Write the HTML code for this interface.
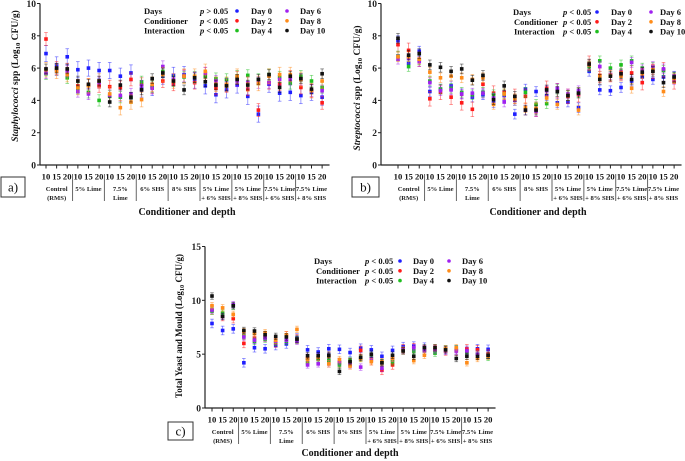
<!DOCTYPE html>
<html><head><meta charset="utf-8"><style>
html,body{margin:0;padding:0;background:#fff;}
svg{display:block;font-family:"Liberation Serif",serif;font-weight:bold;}
</style></head><body>
<svg id="chart" width="685" height="461" viewBox="0 0 685 461" xmlns="http://www.w3.org/2000/svg"></svg>
<script>
const groupLabels = [["Control","(RMS)"],["5% Lime"],["7.5%","Lime"],["6% SHS"],["8% SHS"],["5% Lime","+ 6% SHS"],["5% Lime","+ 8% SHS"],["7.5% Lime","+ 6% SHS"],["7.5% Lime","+ 8% SHS"]];
const depthLabels = ["10","15","20"];
const dayNames = ["Day 0","Day 2","Day 4","Day 6","Day 8","Day 10"];
const dayColors = ["#1f1fff","#ff1a1a","#1fbf1f","#a020f0","#ff8c1a","#111111"];

const aDay0 = [6.9,6.2,6.7,5.9,6.0,5.85,5.85,5.5,5.7,4.7,4.8,5.5,5.55,5.6,5.25,4.9,4.35,4.65,4.95,4.25,3.15,5.0,4.45,4.5,4.3,4.5,4.2];
const aDay2 = [7.8,6.0,5.9,4.9,4.95,4.9,4.85,4.8,5.3,5.0,4.85,5.2,5.0,5.5,5.1,5.65,4.75,4.9,5.4,4.7,3.4,5.1,5.0,5.45,4.8,4.6,3.85];
const aDay4 = [5.65,5.9,5.4,4.75,4.5,4.0,4.25,4.2,4.15,5.15,4.85,5.8,5.2,5.45,5.45,5.45,5.35,5.3,5.5,5.55,5.3,5.6,5.45,5.05,5.5,5.2,4.8];
const aDay6 = [5.7,5.9,5.8,4.55,4.4,5.1,4.3,4.3,4.4,4.9,4.75,6.1,5.3,5.5,5.4,5.7,5.2,5.0,5.2,5.1,5.1,5.1,5.3,5.3,5.3,4.6,4.6];
const aDay8 = [5.9,5.8,5.6,4.8,4.9,5.2,4.4,3.55,3.9,4.05,5.0,5.6,5.2,5.5,5.5,5.8,5.0,5.0,5.5,5.0,5.05,5.5,5.6,5.6,5.3,4.6,5.2];
const aDay10 = [5.95,6.0,5.95,5.2,5.0,5.2,3.9,4.95,4.2,4.65,5.35,5.7,5.2,4.65,5.4,5.15,4.95,4.9,5.3,4.95,5.3,5.6,4.8,5.5,5.35,4.7,5.65];

const bDay0 = [7.7,6.3,7.05,4.55,4.7,4.9,4.4,4.2,4.35,3.85,4.3,3.15,4.7,4.55,4.3,3.85,3.9,3.55,5.8,4.65,4.6,4.8,5.2,5.45,5.3,5.45,5.5];
const bDay2 = [7.45,7.1,6.55,4.1,4.5,4.2,3.85,3.45,5.0,4.45,4.5,4.25,4.25,3.45,4.75,4.6,4.25,4.35,6.3,5.55,5.6,5.75,5.7,5.1,5.8,5.9,5.15];
const bDay4 = [6.75,6.1,6.5,5.2,4.7,4.75,4.5,4.35,4.5,4.35,4.4,4.0,4.5,3.75,3.8,4.7,4.3,4.5,6.1,6.45,6.0,6.2,6.45,6.0,6.05,5.85,5.4];
const bDay6 = [6.55,6.6,6.4,5.1,4.6,4.65,4.4,4.45,4.45,4.15,3.9,4.0,3.4,3.3,4.6,4.75,4.4,4.6,6.2,6.1,5.6,5.55,6.35,5.9,6.1,5.95,5.3];
const bDay8 = [6.7,6.7,6.55,5.75,5.4,5.5,5.4,5.3,5.4,3.75,4.4,4.1,3.55,3.5,4.15,3.75,4.3,3.4,6.2,5.5,5.55,5.5,4.75,5.65,5.9,4.55,5.35];
const bDay10 = [7.85,6.8,6.9,6.2,6.05,5.8,5.95,5.25,5.55,4.05,4.9,4.25,3.4,3.4,4.65,4.55,4.3,4.45,6.25,5.3,5.5,5.65,5.3,5.75,5.8,5.1,5.45];

const cDay0 = [7.85,7.2,7.35,4.2,5.6,5.5,5.8,5.95,6.5,5.4,5.2,5.5,5.45,5.15,5.55,5.4,4.8,5.35,5.7,5.75,5.65,5.4,5.4,5.4,5.35,5.5,5.45];
const cDay2 = [9.1,8.5,8.3,6.0,6.5,6.6,6.05,6.7,6.4,4.6,4.6,4.8,4.2,4.2,5.35,4.4,3.5,4.0,5.5,5.6,5.4,5.4,5.3,5.3,5.5,5.4,5.0];
const cDay4 = [9.0,8.8,9.45,6.7,6.2,6.4,6.1,6.2,6.3,4.2,4.5,4.4,4.0,4.4,4.6,4.7,4.2,4.3,5.4,5.3,5.3,5.1,5.5,5.5,5.1,5.0,4.7];
const cDay6 = [9.1,8.5,9.6,6.6,6.3,6.5,6.2,6.3,6.2,4.0,4.1,4.1,4.3,4.0,3.8,4.6,3.7,4.6,5.4,5.6,5.3,5.4,5.3,5.3,5.3,5.0,4.9];
const cDay8 = [9.5,9.3,8.7,7.1,6.9,7.0,6.3,6.8,7.3,4.5,4.7,4.1,4.5,3.9,4.6,4.3,4.3,4.6,5.3,4.4,4.9,5.6,5.5,5.6,4.2,4.6,4.8];
const cDay10 = [10.4,8.5,9.5,7.2,7.15,6.8,6.65,6.6,6.4,4.85,4.85,4.9,3.4,4.3,4.7,5.0,4.2,4.9,5.3,4.8,5.6,5.6,5.4,4.6,4.8,4.8,4.9];

const aTicks = [0,2,4,6,8,10];
const bTicks = [0,2,4,6,8,10];
const cTicks = [0,5,10,15];
const aP = ["p > 0.05","p < 0.05","p < 0.05"];
const bP = ["p < 0.05","p < 0.05","p < 0.05"];
const cP = ["p < 0.05","p < 0.05","p < 0.05"];

const svg = document.getElementById('chart');
const NS = "http://www.w3.org/2000/svg";
function mk(tag, attrs, parent, text){
  const e = document.createElementNS(NS, tag);
  for (const k in attrs) e.setAttribute(k, attrs[k]);
  if (text !== undefined) e.textContent = text;
  (parent||svg).appendChild(e);
  return e;
}

function panel(cfg){
  const g = mk('g', {});
  
  
  const ax = cfg.axX, y0 = cfg.y0, yT = cfg.yTop, ymax = cfg.ticks[cfg.ticks.length-1];
  const yS = v => y0 - (v/ymax)*(y0-yT);
  const xS = i => cfg.x0 + i*cfg.dx;
  const xEnd = xS(26) + cfg.dx*0.7;
  const yl = mk('line', {x1:ax,y1:yT,x2:ax,y2:y0,stroke:'#222','stroke-width':1.2}, g);
   
  const xl = mk('line', {x1:ax,y1:y0,x2:xEnd,y2:y0,stroke:'#222','stroke-width':1.2}, g);
   
  cfg.ticks.forEach(t => {
    const y = yS(t);
    mk('line',{x1:ax-3,y1:y,x2:ax,y2:y,stroke:'#222','stroke-width':1},g);
    const tl = mk('text',{x:ax-4,y:y+3.5,'font-size':9.5,'text-anchor':'end',fill:'#222'},g,String(t));
     
  });
  for (let i=0;i<27;i++){
    const x = xS(i);
    mk('line',{x1:x,y1:y0,x2:x,y2:y0+3.5,stroke:'#222','stroke-width':1},g);
    const tl = mk('text',{x:x,y:y0+14.5,'font-size':8.6,'text-anchor':'middle',fill:'#111',textLength:8.6,lengthAdjust:'spacingAndGlyphs'},g,depthLabels[i%3]);
     
  }
  groupLabels.forEach((lbl, gi) => {
    const cx = xS(gi*3+1);
    lbl.forEach((s, li) => {
      const t = mk('text',{x:cx,y:y0+26+li*9,'font-size':6.6,'text-anchor':'middle',fill:'#222'},g,s);
       
    });
    if (gi>0){
      const sx = xS(gi*3) - cfg.dx/2;
      mk('line',{x1:sx,y1:y0+9,x2:sx,y2:y0+36,stroke:'#666','stroke-width':1},g);
    }
  });
  cfg.series.forEach((arr, si) => {
    const sg = mk('g',{},g);
    
    
    arr.forEach((v,i) => {
      const x = xS(i), y = yS(v), e = (y0-yT)/ymax*cfg.err[si];
      mk('line',{x1:x,y1:y-e,x2:x,y2:y+e,stroke:dayColors[si],'stroke-width':0.8,opacity:0.55},sg);
      mk('line',{x1:x-1.8,y1:y-e,x2:x+1.8,y2:y-e,stroke:dayColors[si],'stroke-width':0.8,opacity:0.55},sg);
      mk('line',{x1:x-1.8,y1:y+e,x2:x+1.8,y2:y+e,stroke:dayColors[si],'stroke-width':0.8,opacity:0.55},sg);
      const r = mk('rect',{x:x-1.8,y:y-1.8,width:3.6,height:3.6,fill:dayColors[si]},sg);
       
    });
  });
  const xt = mk('text',{x:cfg.xtX,y:cfg.xtY,'font-size':10,'text-anchor':'middle',fill:'#111'},g,'Conditioner and  depth');
   
  const yt = mk('text',{x:0,y:0,'font-size':cfg.ytSize,'text-anchor':'middle',fill:'#111',transform:`translate(${cfg.ytX},${cfg.ytY}) rotate(-90)`},g);
   
  if (cfg.ytItalic){
    mk('tspan',{'font-style':'italic'},yt,cfg.ytItalic);
    mk('tspan',{},yt,' spp (Log');
  } else mk('tspan',{},yt,cfg.ytPlain+' (Log');
  mk('tspan',{'font-size':cfg.ytSize*0.7,dy:2},yt,'10');
  mk('tspan',{dy:-2},yt,' CFU/g)');
  const bx = mk('rect',{x:cfg.box[0],y:cfg.box[1],width:cfg.box[2],height:cfg.box[3],fill:'#fff',stroke:'#333','stroke-width':1},g);
   
  const bt = mk('text',{x:cfg.box[0]+cfg.box[2]/2,y:cfg.box[1]+cfg.box[3]/2+4.5,'font-size':13,'font-weight':'normal','text-anchor':'middle',fill:'#111'},g,cfg.label);
   
  const L = cfg.leg;
  const lg = mk('g',{},g);
   
  ["Days","Conditioner","Interaction"].forEach((s,k)=>{
    const y = L.y + k*9.8;
    mk('text',{x:L.x+(k>0?L.indent:0),y:y,'font-size':8.5,fill:'#111'},lg,s);
    const pt = mk('text',{x:L.px,y:y,'font-size':8.5,fill:'#111'},lg);
    mk('tspan',{'font-style':'italic'},pt,'p');
    mk('tspan',{},pt,cfg.p[k].slice(1));
  });
  dayNames.forEach((d,k)=>{
    const col = Math.floor(k/3), row = k%3;
    const y = L.y + row*9.8;
    const dx = col ? L.d2 : L.d1, lx = col ? L.l2 : L.l1;
    const c = mk('circle',{cx:dx,cy:y-3,r:1.8,fill:dayColors[k]},lg);
     
    const t = mk('text',{x:lx,y:y,'font-size':8.5,fill:'#111'},lg,d);
     
  });
}

panel({name:'panel-a-staphylococci',label:'a)',axX:40,y0:165,yTop:3.5,ticks:aTicks,x0:46,dx:10.62,
  series:[aDay0,aDay2,aDay4,aDay6,aDay8,aDay10],err:[0.5,0.4,0.35,0.35,0.45,0.3],
  xtX:187,xtY:215,ytX:18,ytY:76,ytSize:9.5,ytItalic:'Staphylococci',
  box:[1,177,24,20],p:aP,
  leg:{x:144,y:14,indent:0,px:200,d1:237,l1:251,d2:287,l2:300}});
panel({name:'panel-b-streptococci',label:'b)',axX:381,y0:165,yTop:3.5,ticks:bTicks,x0:398,dx:10.62,
  series:[bDay0,bDay2,bDay4,bDay6,bDay8,bDay10],err:[0.3,0.45,0.3,0.3,0.3,0.3],
  xtX:538,xtY:215,ytX:360,ytY:88,ytSize:9.5,ytItalic:'Streptococci',
  box:[352,177,27,20],p:bP,
  leg:{x:513,y:15,indent:1,px:563,d1:597,l1:611,d2:651,l2:660}});
panel({name:'panel-c-yeast-mould',label:'c)',axX:205,y0:408,yTop:246.5,ticks:cTicks,x0:212,dx:10.62,
  series:[cDay0,cDay2,cDay4,cDay6,cDay8,cDay10],err:[0.4,0.4,0.3,0.3,0.3,0.3],
  xtX:350,xtY:456,ytX:182,ytY:326,ytSize:9,ytPlain:'Total Yeast and Mould',
  box:[168,422,25,18],p:cP,
  leg:{x:314,y:264,indent:2,px:365,d1:400,l1:413,d2:449,l2:462}});
</script>
</body></html>
